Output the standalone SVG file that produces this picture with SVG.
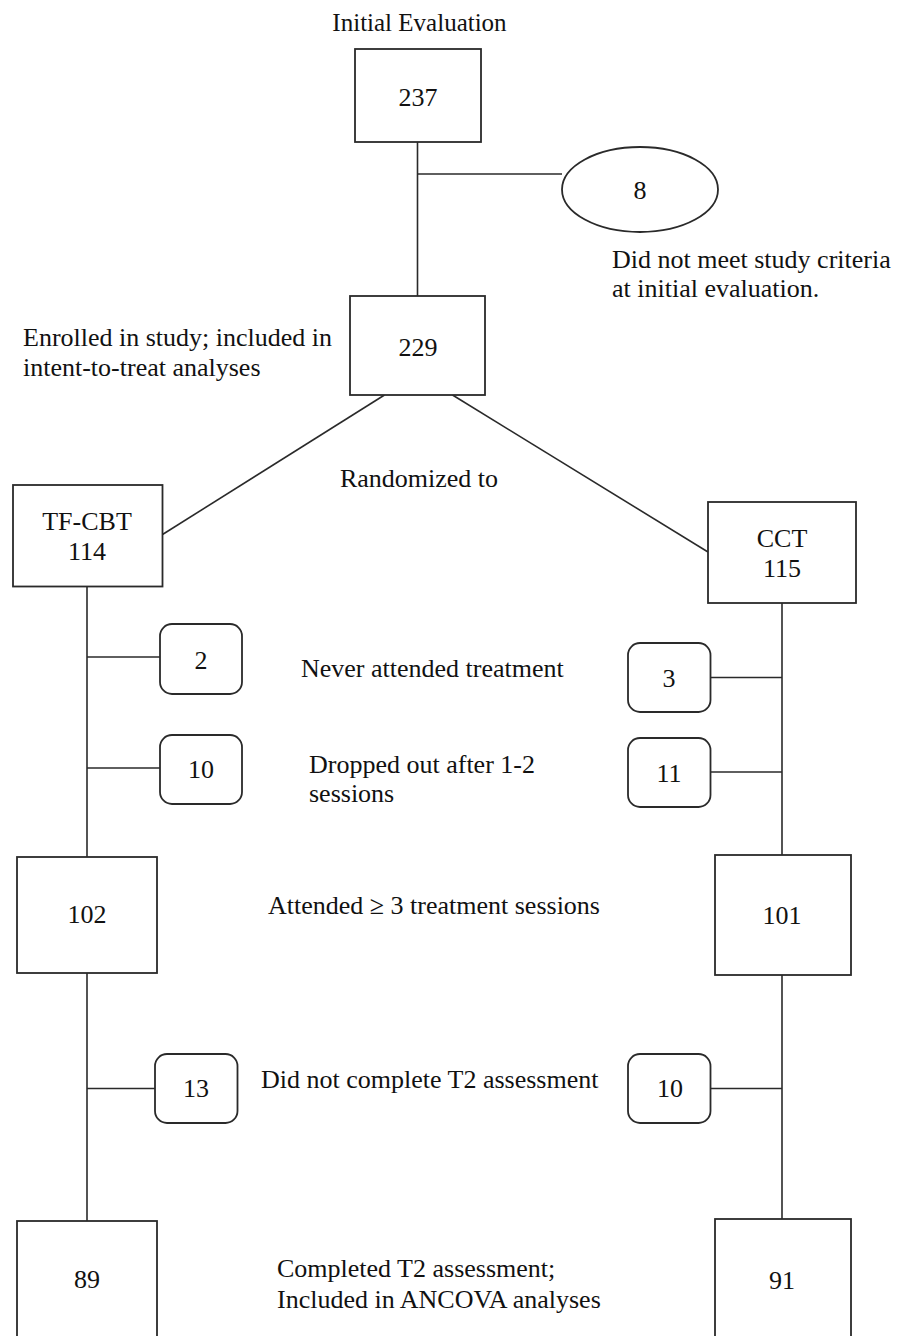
<svg xmlns="http://www.w3.org/2000/svg" width="903" height="1336" viewBox="0 0 903 1336">
<style>
.box{fill:#fff;stroke:#2a2a2a;stroke-width:1.8}
.conn line{stroke:#2a2a2a;stroke-width:1.6}
text{font-family:"Liberation Serif","Times New Roman",serif;font-size:26px;fill:#111}
.c{text-anchor:middle}
</style>
<rect width="903" height="1336" fill="#fff"/>
<g id="connectors" class="conn">
<line x1="417.5" y1="142" x2="417.5" y2="296"/>
<line x1="417.5" y1="174" x2="562" y2="174"/>
<line x1="384.5" y1="395" x2="162.5" y2="534.5"/>
<line x1="452.5" y1="395" x2="708" y2="552"/>
<line x1="87" y1="586.5" x2="87" y2="857"/>
<line x1="87" y1="657" x2="160" y2="657"/>
<line x1="87" y1="768" x2="160" y2="768"/>
<line x1="87" y1="973" x2="87" y2="1221"/>
<line x1="87" y1="1088.5" x2="155" y2="1088.5"/>
<line x1="782" y1="603" x2="782" y2="855"/>
<line x1="710.5" y1="677.5" x2="782" y2="677.5"/>
<line x1="710.5" y1="772" x2="782" y2="772"/>
<line x1="782" y1="975" x2="782" y2="1219"/>
<line x1="710.5" y1="1088.5" x2="782" y2="1088.5"/>
</g>
<text x="419.5" y="31" class="c" style="font-size:25px">Initial Evaluation</text>
<g id="n237"><rect class="box" x="355" y="49" width="126" height="93"/><text x="418" y="106" class="c">237</text></g>
<g id="n8"><ellipse class="box" cx="640" cy="189.5" rx="78" ry="42.5"/><text x="640" y="199" class="c">8</text></g>
<g id="lbl-criteria"><text x="612" y="268">Did not meet study criteria</text><text x="612" y="297">at initial evaluation.</text></g>
<g id="n229"><rect class="box" x="350" y="296" width="135" height="99"/><text x="418" y="356" class="c">229</text></g>
<g id="lbl-enrolled"><text x="23" y="346">Enrolled in study; included in</text><text x="23" y="376">intent-to-treat analyses</text></g>
<text x="419" y="487" class="c">Randomized to</text>
<g id="nTFCBT"><rect class="box" x="13" y="485" width="149.5" height="101.5"/><text x="87" y="530" class="c">TF-CBT</text><text x="87" y="560" class="c">114</text></g>
<g id="nCCT"><rect class="box" x="708" y="502" width="148" height="101"/><text x="782" y="546.5" class="c">CCT</text><text x="782" y="577" class="c">115</text></g>
<g id="n2"><rect class="box" x="160" y="624" width="82" height="70" rx="12"/><text x="201" y="669" class="c">2</text></g>
<g id="n3"><rect class="box" x="628" y="643" width="82.5" height="69" rx="12"/><text x="669" y="687" class="c">3</text></g>
<text x="301" y="677">Never attended treatment</text>
<g id="n10a"><rect class="box" x="160" y="735" width="82" height="69" rx="12"/><text x="201" y="778" class="c">10</text></g>
<g id="n11"><rect class="box" x="628" y="738" width="82.5" height="69" rx="12"/><text x="669" y="782" class="c">11</text></g>
<g id="lbl-dropped"><text x="309" y="773">Dropped out after 1-2</text><text x="309" y="802">sessions</text></g>
<g id="n102"><rect class="box" x="17" y="857" width="140" height="116"/><text x="87" y="923" class="c">102</text></g>
<g id="n101"><rect class="box" x="715" y="855" width="136" height="120"/><text x="782" y="924" class="c">101</text></g>
<text x="268" y="914">Attended ≥ 3 treatment sessions</text>
<g id="n13"><rect class="box" x="155" y="1054" width="82.5" height="69" rx="12"/><text x="196" y="1097" class="c">13</text></g>
<g id="n10b"><rect class="box" x="628" y="1054" width="82.5" height="69" rx="12"/><text x="670" y="1097" class="c">10</text></g>
<text x="261" y="1088">Did not complete T2 assessment</text>
<g id="n89"><rect class="box" x="17" y="1221" width="140" height="130"/><text x="87" y="1288" class="c">89</text></g>
<g id="n91"><rect class="box" x="715" y="1219" width="136" height="132"/><text x="782" y="1289" class="c">91</text></g>
<g id="lbl-completed"><text x="277" y="1277">Completed T2 assessment;</text><text x="277" y="1308">Included in ANCOVA analyses</text></g>
</svg>
